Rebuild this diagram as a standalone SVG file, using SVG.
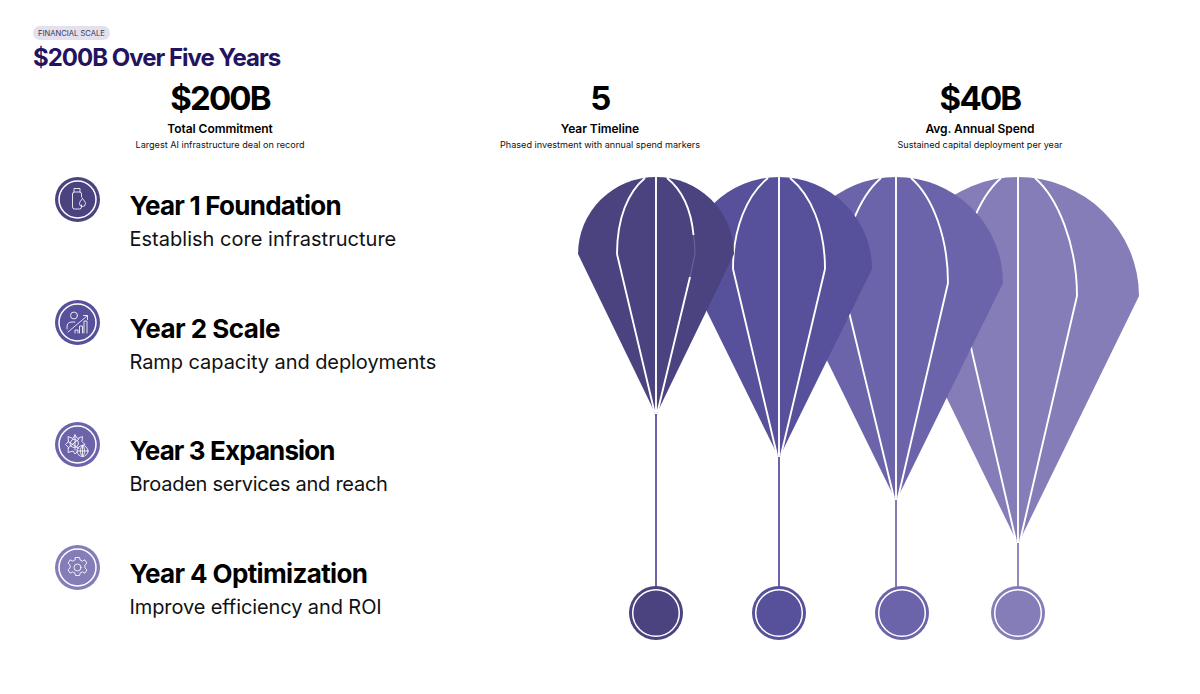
<svg xmlns="http://www.w3.org/2000/svg" width="1200" height="694" viewBox="0 0 1200 694">
<style>
text{font-family:Inter,"Liberation Sans",sans-serif;fill:#000}
.big{font-size:33px;font-weight:700;text-anchor:middle;letter-spacing:-1.8px}
.lab{font-size:12px;font-weight:600;text-anchor:middle;letter-spacing:-.05px}
.sub{font-size:9.1px;font-weight:400;text-anchor:middle;fill:#111}
.h{font-size:26px;font-weight:700;letter-spacing:-.75px}
.d{font-size:20px;font-weight:400;fill:#111;letter-spacing:-.07px}
.w{fill:none;stroke:#fff;stroke-width:1.9}
.ic{fill:none;stroke:#fff;stroke-width:1;stroke-linejoin:round;stroke-linecap:round;opacity:.85}
.ring{fill:none;stroke:#fff;stroke-width:1.5}
.c1{fill:#4a4380}.c2{fill:#57509a}.c3{fill:#6c64aa}.c4{fill:#857db8}
</style>
<rect x="0" y="0" width="1200" height="694" fill="#fff"/>
<g id="header">
<rect x="33" y="26" width="77" height="14" rx="7" fill="#e3e1f0"/>
<text x="38" y="36" style="font-size:7.6px;fill:#3a3a4a">FINANCIAL SCALE</text>
<text x="33" y="66" style="font-size:24px;font-weight:700;fill:#24135f;letter-spacing:-1px">$200B Over Five Years</text>
</g>
<g id="stat-1"><text class="big" x="220" y="110">$200B</text><text class="lab" x="220" y="133">Total Commitment</text><text class="sub" x="220" y="148">Largest AI infrastructure deal on record</text></g>
<g id="stat-2"><text class="big" x="600" y="110">5</text><text class="lab" x="600" y="133">Year Timeline</text><text class="sub" x="600" y="148">Phased investment with annual spend markers</text></g>
<g id="stat-3"><text class="big" x="980" y="110">$40B</text><text class="lab" x="980" y="133">Avg. Annual Spend</text><text class="sub" x="980" y="148">Sustained capital deployment per year</text></g>

<g id="year-1">
<circle class="c1" cx="77.500" cy="199.500" r="22.500"/><circle class="ring" cx="77.500" cy="199.500" r="18.500"/>
<path class="ic" d="M74 192v-3.500h6v3.500M72.500 194q0-2 2-2h5q2 0 2 2v3M81.500 205v2q0 2-2 2h-5q-2 0-2-2V194M82.500 198.500c1.500 2 3 3.500 3 5a3 3 0 0 1-6 0c0-1.500 1.500-3 3-5z"/>
<text class="h" x="129.500" y="215">Year 1 Foundation</text><text class="d" x="129.500" y="246" style="letter-spacing:.02px">Establish core infrastructure</text>
</g>
<g id="year-2">
<circle class="c2" cx="77.500" cy="322.500" r="22.500"/><circle class="ring" cx="77.500" cy="322.500" r="18.500"/>
<circle class="ic" cx="74" cy="315.500" r="3.500"/>
<path class="ic" d="M67 329v-2q0-5 5-5h3M68 332l19-16M83.500 315.500h4v4M75 333v-3h3v3M79.500 333v-7h3v7M84 333v-12h3v12"/>
<text class="h" x="129.500" y="338" style="letter-spacing:-.5px">Year 2 Scale</text><text class="d" x="129.500" y="369">Ramp capacity and deployments</text>
</g>
<g id="year-3">
<circle class="c3" cx="77.500" cy="444.500" r="22.500"/><circle class="ring" cx="77.500" cy="444.500" r="18.500"/>
<path class="ic" d="M75 435l2.500 3.500 5-2-.5 5 3 3-3 1M75 435l-2 3.500-5-2 .5 5-3 3 3 3-.5 5 5-1.500 2 3 2-2M75 439.500l3 1.500.5 3-2 3-3 .5-3-1.500-.5-3 2-3zM75 435v15M68 441.500l11 7M68 448l11-9"/>
<circle class="ic" cx="82.500" cy="451" r="5.500"/><path class="ic" d="M77 451h11M82.500 445.500v11M82.500 445.500c-3 3-3 8 0 11M82.500 445.500c3 3 3 8 0 11"/>
<text class="h" x="129.500" y="460" style="letter-spacing:-.88px">Year 3 Expansion</text><text class="d" x="129.500" y="491" style="letter-spacing:-.26px">Broaden services and reach</text>
</g>
<g id="year-4">
<circle class="c4" cx="77.500" cy="567.500" r="22.500"/><circle class="ring" cx="77.500" cy="567.500" r="18.500"/>
<circle class="ic" cx="77.500" cy="567.500" r="3.500"/>
<path class="ic" d="M75.500 557.500h4l.7 2.600 2.300 1 2.400-1.300 2 3.400-2 1.900v2.800l2 1.900-2 3.400-2.400-1.300-2.300 1-.7 2.600h-4l-.7-2.600-2.300-1-2.400 1.300-2-3.400 2-1.900v-2.800l-2-1.900 2-3.400 2.400 1.300 2.300-1z"/>
<text class="h" x="129.500" y="583" style="letter-spacing:-.64px">Year 4 Optimization</text><text class="d" x="129.500" y="614" style="letter-spacing:-.1px">Improve efficiency and ROI</text>
</g>

<g id="connectors" fill="none" stroke-width="2">
<path d="M656 412V588" stroke="#6c64aa"/>
<path d="M779 455V588" stroke="#6c64aa"/>
<path d="M896 498V588" stroke="#857db8"/>
<path d="M1018 541V588" stroke="#9089c0"/>
</g>

<g id="balloon-4">
<path class="c4" d="M897 296A121 119 0 0 1 1139 296L1018 544Z"/>
<path class="w" d="M1018 177V543M959 296C959 245 978 198 1001 178M1077 296C1077 245 1058 198 1035 178M959 296L1016 541M1077 296L1020 541"/>
</g>
<g id="balloon-3">
<path class="c3" d="M789 283A107 106 0 0 1 1003 283L896 501Z"/>
<path class="w" d="M896 177V500M842 283C842 238 859 197 881 178M948 283C948 238 933 197 911 178M842 283L894 498M948 283L898 498"/>
</g>
<g id="balloon-2">
<path class="c2" d="M686 269A93 92 0 0 1 872 269L779 458Z"/>
<path class="w" d="M779 177V457M733 269C733 228 747 195 768 178M825 269C825 228 811 195 790 178M733 269L777 455M825 269L781 455"/>
</g>
<g id="balloon-1">
<path class="c1" d="M578 254A78 77 0 0 1 734 254L656 415Z"/>
<path class="w" d="M656 177V414M617 254C617 218 628 192 645 178M667 178C682 190 691 208 693.500 235M617 254L654.500 412M690 277L657.500 412"/>
<path d="M693.500 235Q695 245 695 254L690 277" fill="none" stroke="#fff" stroke-width="1" opacity=".2"/>
</g>

<g id="marker-1"><circle class="c1" cx="656" cy="613" r="27"/><circle class="ring" cx="656" cy="613" r="23.300"/></g>
<g id="marker-2"><circle class="c2" cx="779" cy="613" r="27"/><circle class="ring" cx="779" cy="613" r="23.300"/></g>
<g id="marker-3"><circle class="c3" cx="902" cy="613" r="27"/><circle class="ring" cx="902" cy="613" r="23.300"/></g>
<g id="marker-4"><circle class="c4" cx="1018" cy="613" r="27"/><circle class="ring" cx="1018" cy="613" r="23.300"/></g>
</svg>
